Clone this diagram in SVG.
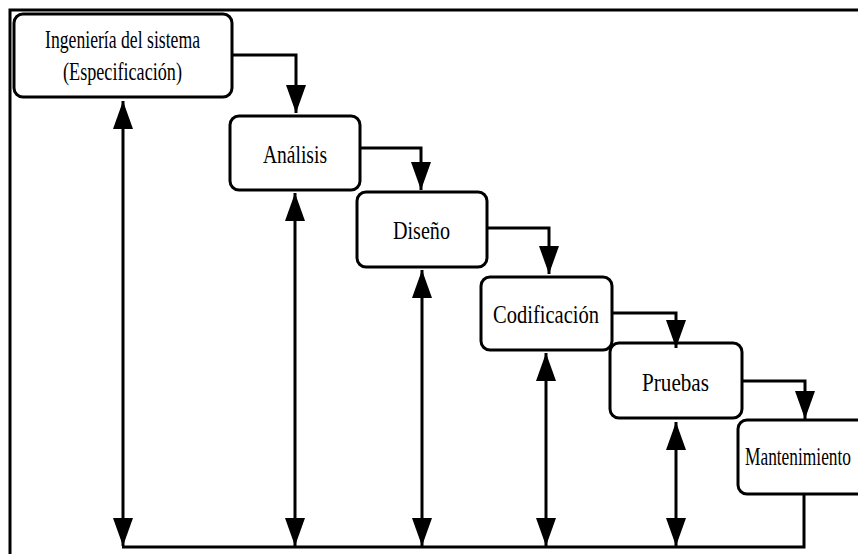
<svg xmlns="http://www.w3.org/2000/svg" width="858" height="554" viewBox="0 0 858 554">
  <style>
    .box { fill: #ffffff; stroke: #000000; stroke-width: 3; }
    .lbl { font-family: "Liberation Serif", "Times New Roman", serif; font-size: 26px; fill: #000000; text-anchor: start; }
    .wire { fill: none; stroke: #000000; stroke-width: 3; }
    .frame { fill: none; stroke: #000000; stroke-width: 3; }
  </style>
  <defs>
    <marker id="head" markerUnits="userSpaceOnUse" markerWidth="30" markerHeight="22" viewBox="0 0 30 22" refX="28" refY="11" orient="auto-start-reverse">
      <path d="M0,1 L28,11 L0,21 Z" fill="#000000"/>
    </marker>
  </defs>

  <rect x="0" y="0" width="858" height="554" fill="#ffffff"/>

  <!-- outer frame: top and left edges -->
  <path class="frame" d="M10,554 V10 H858"/>

  <!-- phase boxes -->
  <g id="ingenieria">
    <rect class="box" x="14" y="14" width="218" height="83" rx="9"/>
    <text class="lbl" x="45" y="48" textLength="155" lengthAdjust="spacingAndGlyphs">Ingeniería del sistema</text>
    <text class="lbl" x="63" y="80" textLength="119" lengthAdjust="spacingAndGlyphs">(Especificación)</text>
  </g>
  <g id="analisis">
    <rect class="box" x="230" y="116" width="130" height="74" rx="9"/>
    <text class="lbl" x="263" y="163" textLength="64" lengthAdjust="spacingAndGlyphs">Análisis</text>
  </g>
  <g id="diseno">
    <rect class="box" x="357" y="192" width="130" height="75" rx="9"/>
    <text class="lbl" x="393" y="239" textLength="57" lengthAdjust="spacingAndGlyphs">Diseño</text>
  </g>
  <g id="codificacion">
    <rect class="box" x="481" y="277" width="131" height="73" rx="9"/>
    <text class="lbl" x="493" y="323" textLength="106" lengthAdjust="spacingAndGlyphs">Codificación</text>
  </g>
  <g id="pruebas">
    <rect class="box" x="610" y="343" width="132" height="75" rx="9"/>
    <text class="lbl" x="642" y="391" textLength="67" lengthAdjust="spacingAndGlyphs">Pruebas</text>
  </g>
  <g id="mantenimiento">
    <rect class="box" x="738" y="420" width="140" height="74" rx="9"/>
    <text class="lbl" x="745" y="465" textLength="106" lengthAdjust="spacingAndGlyphs">Mantenimiento</text>
  </g>

  <!-- connectors -->
  <g id="connectors">
    <!-- cascade to the next phase -->
    <path class="wire" d="M232,55 H296 V113" marker-end="url(#head)"/>
    <path class="wire" d="M360,148 H421 V190" marker-end="url(#head)"/>
    <path class="wire" d="M487,228 H549 V274" marker-end="url(#head)"/>
    <path class="wire" d="M612,313 H676 V348" marker-end="url(#head)"/>
    <path class="wire" d="M742,381 H805 V419" marker-end="url(#head)"/>

    <!-- feedback bus along the bottom -->
    <path class="wire" d="M122,547 H804 V494"/>

    <!-- two-way links between each phase and the bus -->
    <line class="wire" x1="123" y1="101" x2="123" y2="546" marker-start="url(#head)" marker-end="url(#head)"/>
    <line class="wire" x1="295" y1="193" x2="295" y2="546" marker-start="url(#head)" marker-end="url(#head)"/>
    <line class="wire" x1="422" y1="270" x2="422" y2="546" marker-start="url(#head)" marker-end="url(#head)"/>
    <line class="wire" x1="546" y1="353" x2="546" y2="546" marker-start="url(#head)" marker-end="url(#head)"/>
    <line class="wire" x1="676" y1="422" x2="676" y2="546" marker-start="url(#head)" marker-end="url(#head)"/>
  </g>
</svg>
